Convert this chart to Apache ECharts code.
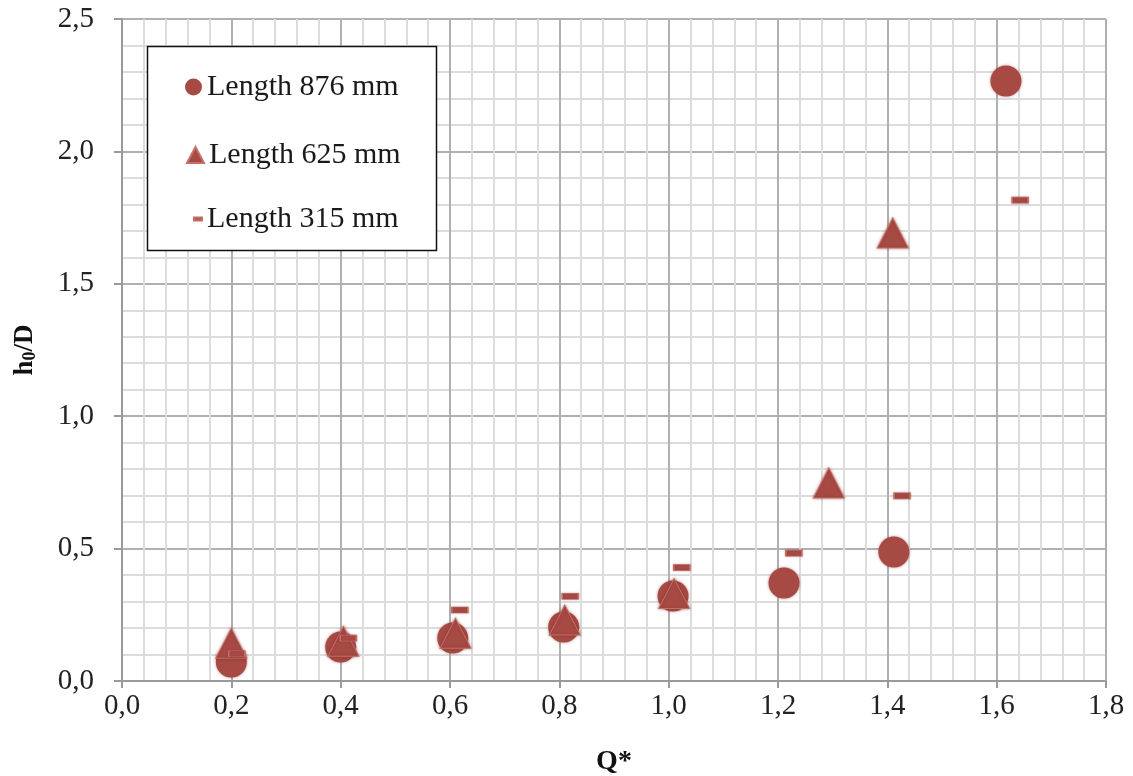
<!DOCTYPE html>
<html>
<head>
<meta charset="utf-8">
<script src="https://cdn.jsdelivr.net/npm/echarts@6/dist/echarts.min.js"></script>
<style>html,body{margin:0;padding:0;background:#fff}#c{width:1133px;height:776px}</style>
</head>
<body>
<div id="c"></div>
<script>
// Data: [Q*, h0/D]
const len876 = [[0.20,0.072],[0.40,0.128],[0.605,0.162],[0.808,0.204],[1.008,0.321],[1.211,0.370],[1.412,0.487],[1.617,2.266]];
const len625 = [[0.20,0.143],[0.405,0.150],[0.61,0.180],[0.81,0.230],[1.01,0.330],[1.293,0.748],[1.41,1.692]];
const len315 = [[0.21,0.103],[0.414,0.162],[0.618,0.268],[0.82,0.320],[1.024,0.428],[1.229,0.483],[1.427,0.699],[1.643,1.816]];
const seriesNames = ['Length 876 mm','Length 625 mm','Length 315 mm'];
const xTicks = {min:0, max:1.8, step:0.2};
const yTicks = {min:0, max:2.5, step:0.5};

const red = '#a84a44';
const font = 'Liberation Serif';
const fmt = v => v.toFixed(1).replace('.', ',');

const chart = echarts.init(document.getElementById('c'), null, {renderer:'canvas'});
const legendText = {fontFamily:font, fontSize:30, color:'#1a1a1a', lineHeight:30};
chart.setOption({
  backgroundColor:'#fff',
  animation:false,
  grid:{left:122, right:27, top:19, bottom:95, containLabel:false, outerBoundsMode:'none'},
  graphic:[{type:'rect', shape:{x:147.5,y:46.5,width:289,height:204}, style:{fill:'#fff', stroke:'#111', lineWidth:1.5}, z:50}],
  legend:[
    {left:185, top:72, itemWidth:17, itemHeight:17, data:[{name:seriesNames[0], icon:'circle'}], textStyle:legendText, z:60, padding:0},
    {left:186, top:140, itemWidth:17, itemHeight:16, data:[{name:seriesNames[1], icon:'triangle'}], textStyle:legendText, z:60, padding:0},
    {left:193, top:204, itemWidth:8, itemHeight:3, data:[{name:seriesNames[2], icon:'rect'}], textStyle:legendText, z:60, padding:0}
  ],
  xAxis:{type:'value', min:xTicks.min, max:xTicks.max, interval:xTicks.step,
    name:'Q*', nameLocation:'middle', nameGap:67,
    nameTextStyle:{fontFamily:font, fontSize:28, fontWeight:'bold', color:'#111'},
    axisLine:{show:true, lineStyle:{color:'#9a9a9a', width:2}},
    axisTick:{show:true, length:7, lineStyle:{color:'#9a9a9a', width:2}},
    axisLabel:{formatter:fmt, fontFamily:font, fontSize:29, color:'#222', margin:11},
    splitLine:{show:true, lineStyle:{color:'#b0b0b0', width:2}},
    minorTick:{show:true, splitNumber:5, length:0},
    minorSplitLine:{show:true, lineStyle:{color:'#dcdcdc', width:2}}
  },
  yAxis:{type:'value', min:yTicks.min, max:yTicks.max, interval:yTicks.step,
    name:'h{s|0}/D', nameLocation:'middle', nameGap:83, nameRotate:90,
    nameTextStyle:{fontFamily:font, fontSize:27, fontWeight:'bold', color:'#111',
      rich:{s:{fontFamily:font, fontSize:18, fontWeight:'bold', color:'#111', verticalAlign:'bottom', padding:[6,0,0,0]}}},
    axisLine:{show:true, lineStyle:{color:'#9a9a9a', width:2}},
    axisTick:{show:true, length:8, lineStyle:{color:'#9a9a9a', width:2}},
    axisLabel:{formatter:fmt, fontFamily:font, fontSize:29, color:'#222', margin:28},
    splitLine:{show:true, lineStyle:{color:'#b0b0b0', width:2}},
    minorTick:{show:true, splitNumber:5, length:0},
    minorSplitLine:{show:true, lineStyle:{color:'#dcdcdc', width:2}}
  },
  series:[
    {name:seriesNames[0], type:'scatter', data:len876, symbol:'circle', symbolSize:31,
      itemStyle:{color:red, opacity:1, shadowBlur:3, shadowColor:'rgba(120,40,35,0.5)'}},
    {name:seriesNames[1], type:'scatter', data:len625, symbol:'triangle', symbolSize:[31,30],
      itemStyle:{color:red, opacity:1, borderColor:'#c4706a', borderWidth:1, shadowBlur:3, shadowColor:'rgba(120,40,35,0.5)'}},
    {name:seriesNames[2], type:'scatter', data:len315, symbol:'rect', symbolSize:[16,6],
      itemStyle:{color:red, opacity:1, borderColor:'#c4706a', borderWidth:1, shadowBlur:2, shadowColor:'rgba(120,40,35,0.4)'}}
  ]
});
</script>
</body>
</html>
